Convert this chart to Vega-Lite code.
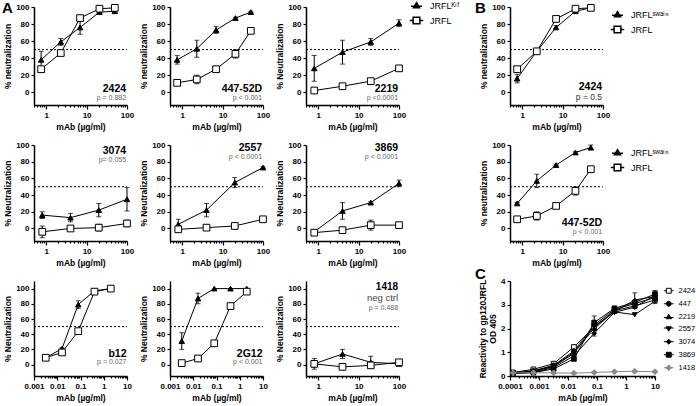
{
"$schema":"https://vega.github.io/schema/vega-lite/v6.json",
"padding":{"left":2,"top":1,"right":2,"bottom":2},
"bounds":"flush",
"columns":5,
"spacing":{"row":40,"column":43},
"resolve":{"scale":{"shape":"independent","fill":"independent","size":"independent","stroke":"independent"}},
"config":{
 "view":{"stroke":null},
 "font":"Liberation Sans",
 "axis":{"domainColor":"black","domainWidth":1.5,"tickColor":"black","tickWidth":1.2,"tickSize":3,"labelFont":"Liberation Sans","labelFontWeight":"bold","labelFontSize":8,"labelColor":"black","titleFont":"Liberation Sans","titleFontWeight":"bold","titleFontSize":8.5,"titleColor":"black","grid":false,"labelPadding":2,"titlePadding":3,"labelOverlap":false,"labelFlush":false},
 "title":{"font":"Liberation Sans","fontWeight":"bold","fontSize":15,"color":"black","anchor":"start","frame":"group","baseline":"bottom","offset":0}
},
"datasets":{
 "A1":[{"s":"JRFLᴷⁱᶠ","x":0.75,"y":38,"e":10},{"s":"JRFLᴷⁱᶠ","x":2.3,"y":59,"e":4},{"s":"JRFLᴷⁱᶠ","x":6.9,"y":76,"e":8},{"s":"JRFLᴷⁱᶠ","x":20.8,"y":94,"e":1},{"s":"JRFLᴷⁱᶠ","x":50,"y":95,"e":1},
       {"s":"JRFL","x":0.75,"y":27,"e":2},{"s":"JRFL","x":2.3,"y":46,"e":2},{"s":"JRFL","x":6.9,"y":87,"e":2},{"s":"JRFL","x":20.8,"y":98,"e":1},{"s":"JRFL","x":50,"y":99,"e":1}],
 "A2":[{"s":"JRFLᴷⁱᶠ","x":0.75,"y":38,"e":5},{"s":"JRFLᴷⁱᶠ","x":2.3,"y":51,"e":10},{"s":"JRFLᴷⁱᶠ","x":6.9,"y":73,"e":4},{"s":"JRFLᴷⁱᶠ","x":20.8,"y":87,"e":1},{"s":"JRFLᴷⁱᶠ","x":50,"y":94,"e":1},
       {"s":"JRFL","x":0.75,"y":11,"e":2},{"s":"JRFL","x":2.3,"y":15,"e":5},{"s":"JRFL","x":6.9,"y":27,"e":1},{"s":"JRFL","x":20.8,"y":45,"e":5},{"s":"JRFL","x":50,"y":72,"e":2}],
 "A3":[{"s":"JRFLᴷⁱᶠ","x":0.8,"y":28,"e":15},{"s":"JRFLᴷⁱᶠ","x":4,"y":47,"e":14},{"s":"JRFLᴷⁱᶠ","x":20,"y":59,"e":4},{"s":"JRFLᴷⁱᶠ","x":100,"y":81,"e":4},
       {"s":"JRFL","x":0.8,"y":2,"e":1},{"s":"JRFL","x":4,"y":7,"e":1},{"s":"JRFL","x":20,"y":13,"e":1},{"s":"JRFL","x":100,"y":28,"e":2}],
 "A4":[{"s":"JRFLᴷⁱᶠ","x":0.8,"y":16,"e":4},{"s":"JRFLᴷⁱᶠ","x":4,"y":13,"e":5},{"s":"JRFLᴷⁱᶠ","x":20,"y":22,"e":8},{"s":"JRFLᴷⁱᶠ","x":100,"y":35,"e":14},
       {"s":"JRFL","x":0.8,"y":-4,"e":7},{"s":"JRFL","x":4,"y":0,"e":1},{"s":"JRFL","x":20,"y":1,"e":4},{"s":"JRFL","x":100,"y":6,"e":4}],
 "A5":[{"s":"JRFLᴷⁱᶠ","x":0.8,"y":5,"e":6},{"s":"JRFLᴷⁱᶠ","x":4,"y":22,"e":8},{"s":"JRFLᴷⁱᶠ","x":20,"y":55,"e":6},{"s":"JRFLᴷⁱᶠ","x":100,"y":73,"e":1},
       {"s":"JRFL","x":0.8,"y":-1,"e":3},{"s":"JRFL","x":4,"y":1,"e":1},{"s":"JRFL","x":20,"y":3,"e":1},{"s":"JRFL","x":100,"y":11,"e":2}],
 "A6":[{"s":"JRFLᴷⁱᶠ","x":0.8,"y":-4,"e":2},{"s":"JRFLᴷⁱᶠ","x":4,"y":21,"e":10},{"s":"JRFLᴷⁱᶠ","x":20,"y":31,"e":1},{"s":"JRFLᴷⁱᶠ","x":100,"y":54,"e":4},
       {"s":"JRFL","x":0.8,"y":-5,"e":3},{"s":"JRFL","x":4,"y":-2,"e":3},{"s":"JRFL","x":20,"y":4,"e":6},{"s":"JRFL","x":100,"y":4,"e":2}],
 "A7":[{"s":"JRFLᴷⁱᶠ","x":0.0032,"y":9,"e":1},{"s":"JRFLᴷⁱᶠ","x":0.016,"y":21,"e":1},{"s":"JRFLᴷⁱᶠ","x":0.08,"y":79,"e":5},{"s":"JRFLᴷⁱᶠ","x":0.4,"y":97,"e":1},{"s":"JRFLᴷⁱᶠ","x":2,"y":100,"e":0},
       {"s":"JRFL","x":0.0032,"y":9,"e":2},{"s":"JRFL","x":0.016,"y":16,"e":2},{"s":"JRFL","x":0.08,"y":44,"e":3},{"s":"JRFL","x":0.4,"y":96,"e":2},{"s":"JRFL","x":2,"y":100,"e":1}],
 "A8":[{"s":"JRFLᴷⁱᶠ","x":0.0032,"y":31,"e":11},{"s":"JRFLᴷⁱᶠ","x":0.016,"y":87,"e":7},{"s":"JRFLᴷⁱᶠ","x":0.08,"y":100,"e":0},{"s":"JRFLᴷⁱᶠ","x":0.4,"y":100,"e":0},{"s":"JRFLᴷⁱᶠ","x":2,"y":100,"e":0},
       {"s":"JRFL","x":0.0032,"y":2,"e":1},{"s":"JRFL","x":0.016,"y":8,"e":1},{"s":"JRFL","x":0.08,"y":28,"e":1},{"s":"JRFL","x":0.4,"y":77,"e":1},{"s":"JRFL","x":2,"y":96,"e":2}],
 "A9":[{"s":"JRFLᴷⁱᶠ","x":0.8,"y":1,"e":7},{"s":"JRFLᴷⁱᶠ","x":4,"y":14,"e":6},{"s":"JRFLᴷⁱᶠ","x":20,"y":3,"e":8},{"s":"JRFLᴷⁱᶠ","x":100,"y":1,"e":2},
       {"s":"JRFL","x":0.8,"y":1,"e":4},{"s":"JRFL","x":4,"y":-3,"e":2},{"s":"JRFL","x":20,"y":-1,"e":3},{"s":"JRFL","x":100,"y":3,"e":2}],
 "B1":[{"s":"JRFLˢʷᵃⁱⁿ","x":0.75,"y":16,"e":5},{"s":"JRFLˢʷᵃⁱⁿ","x":2.3,"y":48,"e":2},{"s":"JRFLˢʷᵃⁱⁿ","x":6.9,"y":76,"e":2},{"s":"JRFLˢʷᵃⁱⁿ","x":20.8,"y":95,"e":1},{"s":"JRFLˢʷᵃⁱⁿ","x":50,"y":99,"e":1},
       {"s":"JRFL","x":0.75,"y":27,"e":3},{"s":"JRFL","x":2.3,"y":48,"e":2},{"s":"JRFL","x":6.9,"y":86,"e":2},{"s":"JRFL","x":20.8,"y":98,"e":1},{"s":"JRFL","x":50,"y":99,"e":1}],
 "B2":[{"s":"JRFLˢʷᵃⁱⁿ","x":0.75,"y":30,"e":1},{"s":"JRFLˢʷᵃⁱⁿ","x":2.3,"y":57,"e":8},{"s":"JRFLˢʷᵃⁱⁿ","x":6.9,"y":76,"e":1},{"s":"JRFLˢʷᵃⁱⁿ","x":20.8,"y":91,"e":1},{"s":"JRFLˢʷᵃⁱⁿ","x":50,"y":97,"e":3},
       {"s":"JRFL","x":0.75,"y":11,"e":2},{"s":"JRFL","x":2.3,"y":15,"e":5},{"s":"JRFL","x":6.9,"y":27,"e":1},{"s":"JRFL","x":20.8,"y":45,"e":5},{"s":"JRFL","x":50,"y":71,"e":2}],
 "C":[
  {"s":"2424","x":0.000128,"y":0.15},{"s":"2424","x":0.00064,"y":0.28},{"s":"2424","x":0.0032,"y":0.52},{"s":"2424","x":0.016,"y":1.22},{"s":"2424","x":0.08,"y":2.05},{"s":"2424","x":0.4,"y":2.75},{"s":"2424","x":2,"y":2.95},{"s":"2424","x":10,"y":3.2,"e":0.15},
  {"s":"447","x":0.000128,"y":0.13},{"s":"447","x":0.00064,"y":0.22},{"s":"447","x":0.0032,"y":0.45},{"s":"447","x":0.016,"y":1.05},{"s":"447","x":0.08,"y":2.15},{"s":"447","x":0.4,"y":2.8},{"s":"447","x":2,"y":3.05},{"s":"447","x":10,"y":3.3},
  {"s":"2219","x":0.000128,"y":0.12},{"s":"2219","x":0.00064,"y":0.2},{"s":"2219","x":0.0032,"y":0.42},{"s":"2219","x":0.016,"y":1.0},{"s":"2219","x":0.08,"y":2.0},{"s":"2219","x":0.4,"y":2.72},{"s":"2219","x":2,"y":3.2,"e":0.3},{"s":"2219","x":10,"y":3.35},
  {"s":"2557","x":0.000128,"y":0.12},{"s":"2557","x":0.00064,"y":0.18},{"s":"2557","x":0.0032,"y":0.4},{"s":"2557","x":0.016,"y":0.95},{"s":"2557","x":0.08,"y":2.1},{"s":"2557","x":0.4,"y":2.7},{"s":"2557","x":2,"y":2.58},{"s":"2557","x":10,"y":3.15},
  {"s":"3074","x":0.000128,"y":0.11},{"s":"3074","x":0.00064,"y":0.16},{"s":"3074","x":0.0032,"y":0.35},{"s":"3074","x":0.016,"y":0.85},{"s":"3074","x":0.08,"y":1.8,"e":0.12},{"s":"3074","x":0.4,"y":2.68},{"s":"3074","x":2,"y":2.9},{"s":"3074","x":10,"y":3.4,"e":0.2},
  {"s":"3869","x":0.000128,"y":0.1},{"s":"3869","x":0.00064,"y":0.14},{"s":"3869","x":0.0032,"y":0.3},{"s":"3869","x":0.016,"y":0.72},{"s":"3869","x":0.08,"y":2.25,"e":0.28},{"s":"3869","x":0.4,"y":2.85},{"s":"3869","x":2,"y":3.1},{"s":"3869","x":10,"y":3.45},
  {"s":"1418","x":0.000128,"y":0.13},{"s":"1418","x":0.00064,"y":0.14},{"s":"1418","x":0.0032,"y":0.13},{"s":"1418","x":0.016,"y":0.12},{"s":"1418","x":0.08,"y":0.15},{"s":"1418","x":0.4,"y":0.18},{"s":"1418","x":2,"y":0.2},{"s":"1418","x":10,"y":0.18}]
},
"concat":[
 {"width":93,"height":98,"title":{"text":"A","dx":-32,"dy":18},"data":{"name":"A1"},
  "encoding":{"x":{"field":"x","type":"quantitative","scale":{"type":"log","domain":[0.5,100],"nice":false},"axis":{"values":[0.5,0.6,0.7,0.8,0.9,1,2,3,4,5,6,7,8,9,10,20,30,40,50,60,70,80,90,100],"format":"~g","labelExpr":"abs(log(datum.value)/LN10-round(log(datum.value)/LN10))<0.01 ? datum.label : ''","tickSize":{"condition":{"test":"abs(log(datum.value)/LN10-round(log(datum.value)/LN10))<0.01","value":4},"value":2},"title":"mAb (µg/ml)"}},
   "y":{"field":"y","type":"quantitative","scale":{"domain":[-15,100],"nice":false,"zero":false},"axis":{"values":[0,20,40,60,80,100],"title":"% neutralization"}}},
  "layer":[
   {"data":{"values":[{"x":0.5,"x2":100,"y":50}]},"mark":{"type":"rule","strokeDash":[2,2],"color":"black","strokeWidth":1},"encoding":{"x2":{"field":"x2"}}},
   {"transform":[{"filter":"datum.e>0"}],"mark":{"type":"errorbar","ticks":true,"size":5,"thickness":1,"color":"black"},"encoding":{"yError":{"field":"e"}}},
   {"mark":{"type":"line","color":"black","strokeWidth":1},"encoding":{"detail":{"field":"s"}}},
   {"mark":{"type":"point","filled":true,"stroke":"black","strokeWidth":1,"opacity":1},"encoding":{
     "shape":{"field":"s","type":"nominal","scale":{"domain":["JRFLᴷⁱᶠ","JRFL"],"range":["triangle-up","square"]},"legend":null},
     "fill":{"field":"s","type":"nominal","scale":{"domain":["JRFLᴷⁱᶠ","JRFL"],"range":["black","white"]},"legend":null},
     "size":{"field":"s","type":"ordinal","scale":{"domain":["JRFLᴷⁱᶠ","JRFL"],"range":[30,45]},"legend":null}}},
   {"data":{"values":[{"x":95,"y":4,"t":"2424"}]},"mark":{"type":"text","align":"right","baseline":"middle","fontWeight":"bold","fontSize":10.5},"encoding":{"text":{"field":"t"}}},
   {"data":{"values":[{"x":95,"y":-7,"t":"p = 0.882"}]},"mark":{"type":"text","align":"right","baseline":"middle","fontSize":7,"color":"#666"},"encoding":{"text":{"field":"t"}}}
  ]},
 {"width":93,"height":98,"data":{"name":"A2"},
  "encoding":{"x":{"field":"x","type":"quantitative","scale":{"type":"log","domain":[0.5,100],"nice":false},"axis":{"values":[0.5,0.6,0.7,0.8,0.9,1,2,3,4,5,6,7,8,9,10,20,30,40,50,60,70,80,90,100],"format":"~g","labelExpr":"abs(log(datum.value)/LN10-round(log(datum.value)/LN10))<0.01 ? datum.label : ''","tickSize":{"condition":{"test":"abs(log(datum.value)/LN10-round(log(datum.value)/LN10))<0.01","value":4},"value":2},"title":"mAb (µg/ml)"}},
   "y":{"field":"y","type":"quantitative","scale":{"domain":[-15,100],"nice":false,"zero":false},"axis":{"values":[0,20,40,60,80,100],"title":"% neutralization"}}},
  "layer":[
   {"data":{"values":[{"x":0.5,"x2":100,"y":50}]},"mark":{"type":"rule","strokeDash":[2,2],"color":"black","strokeWidth":1},"encoding":{"x2":{"field":"x2"}}},
   {"transform":[{"filter":"datum.e>0"}],"mark":{"type":"errorbar","ticks":true,"size":5,"thickness":1,"color":"black"},"encoding":{"yError":{"field":"e"}}},
   {"mark":{"type":"line","color":"black","strokeWidth":1},"encoding":{"detail":{"field":"s"}}},
   {"mark":{"type":"point","filled":true,"stroke":"black","strokeWidth":1,"opacity":1},"encoding":{
     "shape":{"field":"s","type":"nominal","scale":{"domain":["JRFLᴷⁱᶠ","JRFL"],"range":["triangle-up","square"]},"legend":null},
     "fill":{"field":"s","type":"nominal","scale":{"domain":["JRFLᴷⁱᶠ","JRFL"],"range":["black","white"]},"legend":null},
     "size":{"field":"s","type":"ordinal","scale":{"domain":["JRFLᴷⁱᶠ","JRFL"],"range":[30,45]},"legend":null}}},
   {"data":{"values":[{"x":95,"y":4,"t":"447-52D"}]},"mark":{"type":"text","align":"right","baseline":"middle","fontWeight":"bold","fontSize":10.5},"encoding":{"text":{"field":"t"}}},
   {"data":{"values":[{"x":95,"y":-7,"t":"p < 0.001"}]},"mark":{"type":"text","align":"right","baseline":"middle","fontSize":7,"color":"#666"},"encoding":{"text":{"field":"t"}}}
  ]},
 {"width":93,"height":98,"data":{"name":"A3"},
  "resolve":{"scale":{"shape":"independent","fill":"independent","size":"independent"}},
  "encoding":{"x":{"field":"x","type":"quantitative","scale":{"type":"log","domain":[0.5,100],"nice":false},"axis":{"values":[0.5,0.6,0.7,0.8,0.9,1,2,3,4,5,6,7,8,9,10,20,30,40,50,60,70,80,90,100],"format":"~g","labelExpr":"abs(log(datum.value)/LN10-round(log(datum.value)/LN10))<0.01 ? datum.label : ''","tickSize":{"condition":{"test":"abs(log(datum.value)/LN10-round(log(datum.value)/LN10))<0.01","value":4},"value":2},"title":"mAb (µg/ml)"}},
   "y":{"field":"y","type":"quantitative","scale":{"domain":[-15,100],"nice":false,"zero":false},"axis":{"values":[0,20,40,60,80,100],"title":"% Neutralization"}}},
  "layer":[
   {"data":{"values":[{"x":0.5,"x2":100,"y":50}]},"mark":{"type":"rule","strokeDash":[2,2],"color":"black","strokeWidth":1},"encoding":{"x2":{"field":"x2"}}},
   {"transform":[{"filter":"datum.e>0"}],"mark":{"type":"errorbar","ticks":true,"size":5,"thickness":1,"color":"black"},"encoding":{"yError":{"field":"e"}}},
   {"mark":{"type":"line","color":"black","strokeWidth":1},"encoding":{"detail":{"field":"s"}}},
   {"mark":{"type":"point","filled":true,"stroke":"black","strokeWidth":1,"opacity":1},"encoding":{
     "shape":{"field":"s","type":"nominal","scale":{"domain":["JRFLᴷⁱᶠ","JRFL"],"range":["triangle-up","square"]},"legend":null},
     "fill":{"field":"s","type":"nominal","scale":{"domain":["JRFLᴷⁱᶠ","JRFL"],"range":["black","white"]},"legend":null},
     "size":{"field":"s","type":"ordinal","scale":{"domain":["JRFLᴷⁱᶠ","JRFL"],"range":[30,45]},"legend":null}}},
   {"transform":[{"filter":"false"}],"mark":{"type":"point","filled":true,"stroke":"black","strokeWidth":1,"opacity":1},"encoding":{
     "shape":{"field":"s","type":"nominal","scale":{"domain":["JRFLᴷⁱᶠ","JRFL"],"range":["M-2,0.3H2M0,-1L1.1,0.8H-1.1Z","M-2,0H-1M1,0H2M-1,-1H1V1H-1Z"]},"legend":{"orient":"none","legendX":106,"legendY":-6,"title":null,"labelFontSize":9,"labelFont":"Liberation Sans","labelColor":"black","labelOffset":9,"rowPadding":3,"encode":{"symbols":{"update":{"stroke":{"value":"black"},"strokeWidth":{"value":1}}}}}},
     "fill":{"field":"s","type":"nominal","scale":{"domain":["JRFLᴷⁱᶠ","JRFL"],"range":["black","white"]},"legend":{"orient":"none","legendX":106,"legendY":-6,"title":null,"labelFontSize":9,"labelFont":"Liberation Sans","labelColor":"black","labelOffset":9,"rowPadding":3,"encode":{"symbols":{"update":{"stroke":{"value":"black"},"strokeWidth":{"value":1}}}}}},
     "size":{"field":"s","type":"ordinal","scale":{"domain":["JRFLᴷⁱᶠ","JRFL"],"range":[30,45]},"legend":{"orient":"none","legendX":106,"legendY":-6,"title":null,"labelFontSize":9,"labelFont":"Liberation Sans","labelColor":"black","labelOffset":9,"rowPadding":3,"encode":{"symbols":{"update":{"stroke":{"value":"black"},"strokeWidth":{"value":1}}}}}}}},
   {"data":{"values":[{"x":95,"y":4,"t":"2219"}]},"mark":{"type":"text","align":"right","baseline":"middle","fontWeight":"bold","fontSize":10.5},"encoding":{"text":{"field":"t"}}},
   {"data":{"values":[{"x":95,"y":-7,"t":"p <0.0001"}]},"mark":{"type":"text","align":"right","baseline":"middle","fontSize":7,"color":"#666"},"encoding":{"text":{"field":"t"}}}
  ]},
 {"width":25,"height":98,"data":{"values":[{}]},"mark":{"type":"point","opacity":0},"encoding":{}},
 {"width":93,"height":98,"title":{"text":"B","dx":-35,"dy":18},"data":{"name":"B1"},
  "resolve":{"scale":{"shape":"independent","fill":"independent","size":"independent"}},
  "encoding":{"x":{"field":"x","type":"quantitative","scale":{"type":"log","domain":[0.5,100],"nice":false},"axis":{"values":[0.5,0.6,0.7,0.8,0.9,1,2,3,4,5,6,7,8,9,10,20,30,40,50,60,70,80,90,100],"format":"~g","labelExpr":"abs(log(datum.value)/LN10-round(log(datum.value)/LN10))<0.01 ? datum.label : ''","tickSize":{"condition":{"test":"abs(log(datum.value)/LN10-round(log(datum.value)/LN10))<0.01","value":4},"value":2},"title":"mAb (µg/ml)"}},
   "y":{"field":"y","type":"quantitative","scale":{"domain":[-15,100],"nice":false,"zero":false},"axis":{"values":[0,20,40,60,80,100],"title":"% neutralization"}}},
  "layer":[
   {"data":{"values":[{"x":0.5,"x2":100,"y":50}]},"mark":{"type":"rule","strokeDash":[2,2],"color":"black","strokeWidth":1},"encoding":{"x2":{"field":"x2"}}},
   {"transform":[{"filter":"datum.e>0"}],"mark":{"type":"errorbar","ticks":true,"size":5,"thickness":1,"color":"black"},"encoding":{"yError":{"field":"e"}}},
   {"mark":{"type":"line","color":"black","strokeWidth":1},"encoding":{"detail":{"field":"s"}}},
   {"mark":{"type":"point","filled":true,"stroke":"black","strokeWidth":1,"opacity":1},"encoding":{
     "shape":{"field":"s","type":"nominal","scale":{"domain":["JRFLˢʷᵃⁱⁿ","JRFL"],"range":["triangle-up","square"]},"legend":null},
     "fill":{"field":"s","type":"nominal","scale":{"domain":["JRFLˢʷᵃⁱⁿ","JRFL"],"range":["black","white"]},"legend":null},
     "size":{"field":"s","type":"ordinal","scale":{"domain":["JRFLˢʷᵃⁱⁿ","JRFL"],"range":[30,45]},"legend":null}}},
   {"transform":[{"filter":"false"}],"mark":{"type":"point","filled":true,"stroke":"black","strokeWidth":1,"opacity":1},"encoding":{
     "shape":{"field":"s","type":"nominal","scale":{"domain":["JRFLˢʷᵃⁱⁿ","JRFL"],"range":["M-2,0.3H2M0,-1L1.1,0.8H-1.1Z","M-2,0H-1M1,0H2M-1,-1H1V1H-1Z"]},"legend":{"orient":"none","legendX":103,"legendY":3,"title":null,"labelFontSize":9,"labelFont":"Liberation Sans","labelColor":"black","labelOffset":9,"rowPadding":3,"encode":{"symbols":{"update":{"stroke":{"value":"black"},"strokeWidth":{"value":1}}}}}},
     "fill":{"field":"s","type":"nominal","scale":{"domain":["JRFLˢʷᵃⁱⁿ","JRFL"],"range":["black","white"]},"legend":{"orient":"none","legendX":103,"legendY":3,"title":null,"labelFontSize":9,"labelFont":"Liberation Sans","labelColor":"black","labelOffset":9,"rowPadding":3,"encode":{"symbols":{"update":{"stroke":{"value":"black"},"strokeWidth":{"value":1}}}}}},
     "size":{"field":"s","type":"ordinal","scale":{"domain":["JRFLˢʷᵃⁱⁿ","JRFL"],"range":[30,45]},"legend":{"orient":"none","legendX":103,"legendY":3,"title":null,"labelFontSize":9,"labelFont":"Liberation Sans","labelColor":"black","labelOffset":9,"rowPadding":3,"encode":{"symbols":{"update":{"stroke":{"value":"black"},"strokeWidth":{"value":1}}}}}}}},
   {"data":{"values":[{"x":95,"y":6,"t":"2424"}]},"mark":{"type":"text","align":"right","baseline":"middle","fontWeight":"bold","fontSize":10.5},"encoding":{"text":{"field":"t"}}},
   {"data":{"values":[{"x":95,"y":-6,"t":"p = 0.5"}]},"mark":{"type":"text","align":"right","baseline":"middle","fontSize":8.5,"color":"#333"},"encoding":{"text":{"field":"t"}}}
  ]},
 {"width":93,"height":96,"data":{"name":"A4"},
  "encoding":{"x":{"field":"x","type":"quantitative","scale":{"type":"log","domain":[0.5,100],"nice":false},"axis":{"values":[0.5,0.6,0.7,0.8,0.9,1,2,3,4,5,6,7,8,9,10,20,30,40,50,60,70,80,90,100],"format":"~g","labelExpr":"abs(log(datum.value)/LN10-round(log(datum.value)/LN10))<0.01 ? datum.label : ''","tickSize":{"condition":{"test":"abs(log(datum.value)/LN10-round(log(datum.value)/LN10))<0.01","value":4},"value":2},"title":"mAb (µg/ml)"}},
   "y":{"field":"y","type":"quantitative","scale":{"domain":[-15,100],"nice":false,"zero":false},"axis":{"values":[0,20,40,60,80,100],"title":"% Neutralization"}}},
  "layer":[
   {"data":{"values":[{"x":0.5,"x2":100,"y":50}]},"mark":{"type":"rule","strokeDash":[2,2],"color":"black","strokeWidth":1},"encoding":{"x2":{"field":"x2"}}},
   {"transform":[{"filter":"datum.e>0"}],"mark":{"type":"errorbar","ticks":true,"size":5,"thickness":1,"color":"black"},"encoding":{"yError":{"field":"e"}}},
   {"mark":{"type":"line","color":"black","strokeWidth":1},"encoding":{"detail":{"field":"s"}}},
   {"mark":{"type":"point","filled":true,"stroke":"black","strokeWidth":1,"opacity":1},"encoding":{
     "shape":{"field":"s","type":"nominal","scale":{"domain":["JRFLᴷⁱᶠ","JRFL"],"range":["triangle-up","square"]},"legend":null},
     "fill":{"field":"s","type":"nominal","scale":{"domain":["JRFLᴷⁱᶠ","JRFL"],"range":["black","white"]},"legend":null},
     "size":{"field":"s","type":"ordinal","scale":{"domain":["JRFLᴷⁱᶠ","JRFL"],"range":[30,45]},"legend":null}}},
   {"data":{"values":[{"x":95,"y":93,"t":"3074"}]},"mark":{"type":"text","align":"right","baseline":"middle","fontWeight":"bold","fontSize":10.5},"encoding":{"text":{"field":"t"}}},
   {"data":{"values":[{"x":95,"y":82,"t":"p= 0.055"}]},"mark":{"type":"text","align":"right","baseline":"middle","fontSize":7,"color":"#666"},"encoding":{"text":{"field":"t"}}}
  ]},
 {"width":93,"height":96,"data":{"name":"A5"},
  "encoding":{"x":{"field":"x","type":"quantitative","scale":{"type":"log","domain":[0.5,100],"nice":false},"axis":{"values":[0.5,0.6,0.7,0.8,0.9,1,2,3,4,5,6,7,8,9,10,20,30,40,50,60,70,80,90,100],"format":"~g","labelExpr":"abs(log(datum.value)/LN10-round(log(datum.value)/LN10))<0.01 ? datum.label : ''","tickSize":{"condition":{"test":"abs(log(datum.value)/LN10-round(log(datum.value)/LN10))<0.01","value":4},"value":2},"title":"mAb (µg/ml)"}},
   "y":{"field":"y","type":"quantitative","scale":{"domain":[-15,100],"nice":false,"zero":false},"axis":{"values":[0,20,40,60,80,100],"title":"% Neutralization"}}},
  "layer":[
   {"data":{"values":[{"x":0.5,"x2":100,"y":50}]},"mark":{"type":"rule","strokeDash":[2,2],"color":"black","strokeWidth":1},"encoding":{"x2":{"field":"x2"}}},
   {"transform":[{"filter":"datum.e>0"}],"mark":{"type":"errorbar","ticks":true,"size":5,"thickness":1,"color":"black"},"encoding":{"yError":{"field":"e"}}},
   {"mark":{"type":"line","color":"black","strokeWidth":1},"encoding":{"detail":{"field":"s"}}},
   {"mark":{"type":"point","filled":true,"stroke":"black","strokeWidth":1,"opacity":1},"encoding":{
     "shape":{"field":"s","type":"nominal","scale":{"domain":["JRFLᴷⁱᶠ","JRFL"],"range":["triangle-up","square"]},"legend":null},
     "fill":{"field":"s","type":"nominal","scale":{"domain":["JRFLᴷⁱᶠ","JRFL"],"range":["black","white"]},"legend":null},
     "size":{"field":"s","type":"ordinal","scale":{"domain":["JRFLᴷⁱᶠ","JRFL"],"range":[30,45]},"legend":null}}},
   {"data":{"values":[{"x":95,"y":96,"t":"2557"}]},"mark":{"type":"text","align":"right","baseline":"middle","fontWeight":"bold","fontSize":10.5},"encoding":{"text":{"field":"t"}}},
   {"data":{"values":[{"x":95,"y":86,"t":"p < 0.0001"}]},"mark":{"type":"text","align":"right","baseline":"middle","fontSize":7,"color":"#666"},"encoding":{"text":{"field":"t"}}}
  ]},
 {"width":93,"height":96,"data":{"name":"A6"},
  "encoding":{"x":{"field":"x","type":"quantitative","scale":{"type":"log","domain":[0.5,100],"nice":false},"axis":{"values":[0.5,0.6,0.7,0.8,0.9,1,2,3,4,5,6,7,8,9,10,20,30,40,50,60,70,80,90,100],"format":"~g","labelExpr":"abs(log(datum.value)/LN10-round(log(datum.value)/LN10))<0.01 ? datum.label : ''","tickSize":{"condition":{"test":"abs(log(datum.value)/LN10-round(log(datum.value)/LN10))<0.01","value":4},"value":2},"title":"mAb (µg/ml)"}},
   "y":{"field":"y","type":"quantitative","scale":{"domain":[-15,100],"nice":false,"zero":false},"axis":{"values":[0,20,40,60,80,100],"title":"% Neutralization"}}},
  "layer":[
   {"data":{"values":[{"x":0.5,"x2":100,"y":50}]},"mark":{"type":"rule","strokeDash":[2,2],"color":"black","strokeWidth":1},"encoding":{"x2":{"field":"x2"}}},
   {"transform":[{"filter":"datum.e>0"}],"mark":{"type":"errorbar","ticks":true,"size":5,"thickness":1,"color":"black"},"encoding":{"yError":{"field":"e"}}},
   {"mark":{"type":"line","color":"black","strokeWidth":1},"encoding":{"detail":{"field":"s"}}},
   {"mark":{"type":"point","filled":true,"stroke":"black","strokeWidth":1,"opacity":1},"encoding":{
     "shape":{"field":"s","type":"nominal","scale":{"domain":["JRFLᴷⁱᶠ","JRFL"],"range":["triangle-up","square"]},"legend":null},
     "fill":{"field":"s","type":"nominal","scale":{"domain":["JRFLᴷⁱᶠ","JRFL"],"range":["black","white"]},"legend":null},
     "size":{"field":"s","type":"ordinal","scale":{"domain":["JRFLᴷⁱᶠ","JRFL"],"range":[30,45]},"legend":null}}},
   {"data":{"values":[{"x":95,"y":96,"t":"3869"}]},"mark":{"type":"text","align":"right","baseline":"middle","fontWeight":"bold","fontSize":10.5},"encoding":{"text":{"field":"t"}}},
   {"data":{"values":[{"x":95,"y":86,"t":"p < 0.0001"}]},"mark":{"type":"text","align":"right","baseline":"middle","fontSize":7,"color":"#666"},"encoding":{"text":{"field":"t"}}}
  ]},
 {"width":25,"height":96,"data":{"values":[{}]},"mark":{"type":"point","opacity":0},"encoding":{}},
 {"width":93,"height":96,"data":{"name":"B2"},
  "resolve":{"scale":{"shape":"independent","fill":"independent","size":"independent"}},
  "encoding":{"x":{"field":"x","type":"quantitative","scale":{"type":"log","domain":[0.5,100],"nice":false},"axis":{"values":[0.5,0.6,0.7,0.8,0.9,1,2,3,4,5,6,7,8,9,10,20,30,40,50,60,70,80,90,100],"format":"~g","labelExpr":"abs(log(datum.value)/LN10-round(log(datum.value)/LN10))<0.01 ? datum.label : ''","tickSize":{"condition":{"test":"abs(log(datum.value)/LN10-round(log(datum.value)/LN10))<0.01","value":4},"value":2},"title":"mAb (µg/ml)"}},
   "y":{"field":"y","type":"quantitative","scale":{"domain":[-15,100],"nice":false,"zero":false},"axis":{"values":[0,20,40,60,80,100],"title":"% neutralization"}}},
  "layer":[
   {"data":{"values":[{"x":0.5,"x2":100,"y":50}]},"mark":{"type":"rule","strokeDash":[2,2],"color":"black","strokeWidth":1},"encoding":{"x2":{"field":"x2"}}},
   {"transform":[{"filter":"datum.e>0"}],"mark":{"type":"errorbar","ticks":true,"size":5,"thickness":1,"color":"black"},"encoding":{"yError":{"field":"e"}}},
   {"mark":{"type":"line","color":"black","strokeWidth":1},"encoding":{"detail":{"field":"s"}}},
   {"mark":{"type":"point","filled":true,"stroke":"black","strokeWidth":1,"opacity":1},"encoding":{
     "shape":{"field":"s","type":"nominal","scale":{"domain":["JRFLˢʷᵃⁱⁿ","JRFL"],"range":["triangle-up","square"]},"legend":null},
     "fill":{"field":"s","type":"nominal","scale":{"domain":["JRFLˢʷᵃⁱⁿ","JRFL"],"range":["black","white"]},"legend":null},
     "size":{"field":"s","type":"ordinal","scale":{"domain":["JRFLˢʷᵃⁱⁿ","JRFL"],"range":[30,45]},"legend":null}}},
   {"transform":[{"filter":"false"}],"mark":{"type":"point","filled":true,"stroke":"black","strokeWidth":1,"opacity":1},"encoding":{
     "shape":{"field":"s","type":"nominal","scale":{"domain":["JRFLˢʷᵃⁱⁿ","JRFL"],"range":["M-2,0.3H2M0,-1L1.1,0.8H-1.1Z","M-2,0H-1M1,0H2M-1,-1H1V1H-1Z"]},"legend":{"orient":"none","legendX":103,"legendY":3,"title":null,"labelFontSize":9,"labelFont":"Liberation Sans","labelColor":"black","labelOffset":9,"rowPadding":3,"encode":{"symbols":{"update":{"stroke":{"value":"black"},"strokeWidth":{"value":1}}}}}},
     "fill":{"field":"s","type":"nominal","scale":{"domain":["JRFLˢʷᵃⁱⁿ","JRFL"],"range":["black","white"]},"legend":{"orient":"none","legendX":103,"legendY":3,"title":null,"labelFontSize":9,"labelFont":"Liberation Sans","labelColor":"black","labelOffset":9,"rowPadding":3,"encode":{"symbols":{"update":{"stroke":{"value":"black"},"strokeWidth":{"value":1}}}}}},
     "size":{"field":"s","type":"ordinal","scale":{"domain":["JRFLˢʷᵃⁱⁿ","JRFL"],"range":[30,45]},"legend":{"orient":"none","legendX":103,"legendY":3,"title":null,"labelFontSize":9,"labelFont":"Liberation Sans","labelColor":"black","labelOffset":9,"rowPadding":3,"encode":{"symbols":{"update":{"stroke":{"value":"black"},"strokeWidth":{"value":1}}}}}}}},
   {"data":{"values":[{"x":95,"y":7,"t":"447-52D"}]},"mark":{"type":"text","align":"right","baseline":"middle","fontWeight":"bold","fontSize":10.5},"encoding":{"text":{"field":"t"}}},
   {"data":{"values":[{"x":95,"y":-4,"t":"p < 0.001"}]},"mark":{"type":"text","align":"right","baseline":"middle","fontSize":7,"color":"#666"},"encoding":{"text":{"field":"t"}}}
  ]},
 {"width":93,"height":95,"data":{"name":"A7"},
  "encoding":{"x":{"field":"x","type":"quantitative","scale":{"type":"log","domain":[0.001,10],"nice":false},"axis":{"values":[0.001,0.002,0.003,0.004,0.005,0.006,0.007,0.008,0.009,0.01,0.02,0.03,0.04,0.05,0.06,0.07,0.08,0.09,0.1,0.2,0.3,0.4,0.5,0.6,0.7,0.8,0.9,1,2,3,4,5,6,7,8,9,10],"format":"~g","labelExpr":"abs(log(datum.value)/LN10-round(log(datum.value)/LN10))<0.01 ? datum.label : ''","tickSize":{"condition":{"test":"abs(log(datum.value)/LN10-round(log(datum.value)/LN10))<0.01","value":4},"value":2},"title":"mAb (µg/ml)"}},
   "y":{"field":"y","type":"quantitative","scale":{"domain":[-15,110],"nice":false,"zero":false},"axis":{"values":[0,20,40,60,80,100],"title":"% Neutralization"}}},
  "layer":[
   {"data":{"values":[{"x":0.001,"x2":10,"y":50}]},"mark":{"type":"rule","strokeDash":[2,2],"color":"black","strokeWidth":1},"encoding":{"x2":{"field":"x2"}}},
   {"transform":[{"filter":"datum.e>0"}],"mark":{"type":"errorbar","ticks":true,"size":5,"thickness":1,"color":"black"},"encoding":{"yError":{"field":"e"}}},
   {"mark":{"type":"line","color":"black","strokeWidth":1},"encoding":{"detail":{"field":"s"}}},
   {"mark":{"type":"point","filled":true,"stroke":"black","strokeWidth":1,"opacity":1},"encoding":{
     "shape":{"field":"s","type":"nominal","scale":{"domain":["JRFLᴷⁱᶠ","JRFL"],"range":["triangle-up","square"]},"legend":null},
     "fill":{"field":"s","type":"nominal","scale":{"domain":["JRFLᴷⁱᶠ","JRFL"],"range":["black","white"]},"legend":null},
     "size":{"field":"s","type":"ordinal","scale":{"domain":["JRFLᴷⁱᶠ","JRFL"],"range":[30,45]},"legend":null}}},
   {"data":{"values":[{"x":9.5,"y":14,"t":"b12"}]},"mark":{"type":"text","align":"right","baseline":"middle","fontWeight":"bold","fontSize":10.5},"encoding":{"text":{"field":"t"}}},
   {"data":{"values":[{"x":9.5,"y":3,"t":"p = 0.027"}]},"mark":{"type":"text","align":"right","baseline":"middle","fontSize":7,"color":"#666"},"encoding":{"text":{"field":"t"}}}
  ]},
 {"width":93,"height":95,"data":{"name":"A8"},
  "encoding":{"x":{"field":"x","type":"quantitative","scale":{"type":"log","domain":[0.001,10],"nice":false},"axis":{"values":[0.001,0.002,0.003,0.004,0.005,0.006,0.007,0.008,0.009,0.01,0.02,0.03,0.04,0.05,0.06,0.07,0.08,0.09,0.1,0.2,0.3,0.4,0.5,0.6,0.7,0.8,0.9,1,2,3,4,5,6,7,8,9,10],"format":"~g","labelExpr":"abs(log(datum.value)/LN10-round(log(datum.value)/LN10))<0.01 ? datum.label : ''","tickSize":{"condition":{"test":"abs(log(datum.value)/LN10-round(log(datum.value)/LN10))<0.01","value":4},"value":2},"title":"mAb (µg/ml)"}},
   "y":{"field":"y","type":"quantitative","scale":{"domain":[-15,110],"nice":false,"zero":false},"axis":{"values":[0,20,40,60,80,100],"title":"% Neutralization"}}},
  "layer":[
   {"data":{"values":[{"x":0.001,"x2":10,"y":50}]},"mark":{"type":"rule","strokeDash":[2,2],"color":"black","strokeWidth":1},"encoding":{"x2":{"field":"x2"}}},
   {"transform":[{"filter":"datum.e>0"}],"mark":{"type":"errorbar","ticks":true,"size":5,"thickness":1,"color":"black"},"encoding":{"yError":{"field":"e"}}},
   {"mark":{"type":"line","color":"black","strokeWidth":1},"encoding":{"detail":{"field":"s"}}},
   {"mark":{"type":"point","filled":true,"stroke":"black","strokeWidth":1,"opacity":1},"encoding":{
     "shape":{"field":"s","type":"nominal","scale":{"domain":["JRFLᴷⁱᶠ","JRFL"],"range":["triangle-up","square"]},"legend":null},
     "fill":{"field":"s","type":"nominal","scale":{"domain":["JRFLᴷⁱᶠ","JRFL"],"range":["black","white"]},"legend":null},
     "size":{"field":"s","type":"ordinal","scale":{"domain":["JRFLᴷⁱᶠ","JRFL"],"range":[30,45]},"legend":null}}},
   {"data":{"values":[{"x":9.5,"y":14,"t":"2G12"}]},"mark":{"type":"text","align":"right","baseline":"middle","fontWeight":"bold","fontSize":10.5},"encoding":{"text":{"field":"t"}}},
   {"data":{"values":[{"x":9.5,"y":3,"t":"p < 0.001"}]},"mark":{"type":"text","align":"right","baseline":"middle","fontSize":7,"color":"#666"},"encoding":{"text":{"field":"t"}}}
  ]},
 {"width":93,"height":95,"data":{"name":"A9"},
  "encoding":{"x":{"field":"x","type":"quantitative","scale":{"type":"log","domain":[0.5,100],"nice":false},"axis":{"values":[0.5,0.6,0.7,0.8,0.9,1,2,3,4,5,6,7,8,9,10,20,30,40,50,60,70,80,90,100],"format":"~g","labelExpr":"abs(log(datum.value)/LN10-round(log(datum.value)/LN10))<0.01 ? datum.label : ''","tickSize":{"condition":{"test":"abs(log(datum.value)/LN10-round(log(datum.value)/LN10))<0.01","value":4},"value":2},"title":"mAb (µg/ml)"}},
   "y":{"field":"y","type":"quantitative","scale":{"domain":[-15,110],"nice":false,"zero":false},"axis":{"values":[0,20,40,60,80,100],"title":"% Neutralization"}}},
  "layer":[
   {"data":{"values":[{"x":0.5,"x2":100,"y":50}]},"mark":{"type":"rule","strokeDash":[2,2],"color":"black","strokeWidth":1},"encoding":{"x2":{"field":"x2"}}},
   {"transform":[{"filter":"datum.e>0"}],"mark":{"type":"errorbar","ticks":true,"size":5,"thickness":1,"color":"black"},"encoding":{"yError":{"field":"e"}}},
   {"mark":{"type":"line","color":"black","strokeWidth":1},"encoding":{"detail":{"field":"s"}}},
   {"mark":{"type":"point","filled":true,"stroke":"black","strokeWidth":1,"opacity":1},"encoding":{
     "shape":{"field":"s","type":"nominal","scale":{"domain":["JRFLᴷⁱᶠ","JRFL"],"range":["triangle-up","square"]},"legend":null},
     "fill":{"field":"s","type":"nominal","scale":{"domain":["JRFLᴷⁱᶠ","JRFL"],"range":["black","white"]},"legend":null},
     "size":{"field":"s","type":"ordinal","scale":{"domain":["JRFLᴷⁱᶠ","JRFL"],"range":[30,45]},"legend":null}}},
   {"data":{"values":[{"x":95,"y":102,"t":"1418"}]},"mark":{"type":"text","align":"right","baseline":"middle","fontWeight":"bold","fontSize":10},"encoding":{"text":{"field":"t"}}},
   {"data":{"values":[{"x":95,"y":87,"t":"neg ctrl"}]},"mark":{"type":"text","align":"right","baseline":"middle","fontSize":9.5,"color":"#444"},"encoding":{"text":{"field":"t"}}},
   {"data":{"values":[{"x":95,"y":75,"t":"p = 0.488"}]},"mark":{"type":"text","align":"right","baseline":"middle","fontSize":7,"color":"#666"},"encoding":{"text":{"field":"t"}}}
  ]},
 {"width":25,"height":95,"data":{"values":[{}]},"mark":{"type":"point","opacity":0},"encoding":{}},
 {"width":145,"height":95,"title":{"text":"C","dx":-35,"dy":9},"data":{"name":"C"},
  "resolve":{"scale":{"shape":"independent","fill":"independent","stroke":"independent"}},
  "encoding":{"x":{"field":"x","type":"quantitative","scale":{"type":"log","domain":[0.0001,10],"nice":false},"axis":{"values":[0.0001,0.0002,0.0003,0.0004,0.0005,0.0006,0.0007,0.0008,0.0009,0.001,0.002,0.003,0.004,0.005,0.006,0.007,0.008,0.009,0.01,0.02,0.03,0.04,0.05,0.06,0.07,0.08,0.09,0.1,0.2,0.3,0.4,0.5,0.6,0.7,0.8,0.9,1,2,3,4,5,6,7,8,9,10],"format":"~g","labelExpr":"abs(log(datum.value)/LN10-round(log(datum.value)/LN10))<0.01 ? datum.label : ''","tickSize":{"condition":{"test":"abs(log(datum.value)/LN10-round(log(datum.value)/LN10))<0.01","value":4},"value":2},"title":"mAb (µg/ml)"}},
   "y":{"field":"y","type":"quantitative","scale":{"domain":[0,4],"nice":false},"axis":{"values":[0,1,2,3,4],"title":["Reactivity to gp120JRFL","OD 405"]}}},
  "layer":[
   {"transform":[{"filter":"datum.e>0"}],"mark":{"type":"errorbar","ticks":true,"size":5,"thickness":1,"color":"black"},"encoding":{"yError":{"field":"e"}}},
   {"transform":[{"filter":"datum.s!='1418'"}],"mark":{"type":"line","color":"black","strokeWidth":1},"encoding":{"detail":{"field":"s"}}},
   {"transform":[{"filter":"datum.s=='1418'"}],"mark":{"type":"line","color":"#888","strokeWidth":1},"encoding":{}},
   {"mark":{"type":"point","filled":true,"strokeWidth":1,"opacity":1,"size":22},"encoding":{
     "shape":{"field":"s","type":"nominal","scale":{"domain":["2424","447","2219","2557","3074","3869","1418"],"range":["square","circle","triangle-up","triangle-down","diamond","square","cross"]},"legend":null},
     "fill":{"field":"s","type":"nominal","scale":{"domain":["2424","447","2219","2557","3074","3869","1418"],"range":["white","black","black","black","black","black","#888"]},"legend":null},
     "stroke":{"field":"s","type":"nominal","scale":{"domain":["2424","447","2219","2557","3074","3869","1418"],"range":["black","black","black","black","black","black","#888"]},"legend":null}}},
   {"transform":[{"filter":"false"}],"mark":{"type":"point","filled":true,"strokeWidth":1,"opacity":1,"size":24},"encoding":{
     "shape":{"field":"s","type":"nominal","scale":{"domain":["2424","447","2219","2557","3074","3869","1418"],"range":["M-2,0H-1M1,0H2M-1,-1H1V1H-1Z","M-2,0H-1M1,0H2M1,0A1,1,0,1,1,-1,0A1,1,0,1,1,1,0Z","M-2,0.3H2M0,-1L1.1,0.8H-1.1Z","M-2,-0.3H2M0,1L1.1,-0.8H-1.1Z","M-2,0H2M0,-1L1,0L0,1L-1,0Z","M-2,0H-1M1,0H2M-1,-1H1V1H-1Z","M-2,0H2M-0.3,-1H0.3V-0.3H1V0.3H0.3V1H-0.3V0.3H-1V-0.3H-0.3Z"]},"legend":{"orient":"none","legendX":155,"legendY":6,"title":null,"labelFontSize":7.5,"labelFont":"Liberation Sans","labelColor":"black","labelOffset":6,"symbolSize":24,"symbolStrokeWidth":1,"rowPadding":3}},
     "fill":{"field":"s","type":"nominal","scale":{"domain":["2424","447","2219","2557","3074","3869","1418"],"range":["white","black","black","black","black","black","#888"]},"legend":{"orient":"none","legendX":155,"legendY":6,"title":null,"labelFontSize":7.5,"labelFont":"Liberation Sans","labelColor":"black","labelOffset":6,"symbolSize":24,"symbolStrokeWidth":1,"rowPadding":3}},
     "stroke":{"field":"s","type":"nominal","scale":{"domain":["2424","447","2219","2557","3074","3869","1418"],"range":["black","black","black","black","black","black","#888"]},"legend":{"orient":"none","legendX":155,"legendY":6,"title":null,"labelFontSize":7.5,"labelFont":"Liberation Sans","labelColor":"black","labelOffset":6,"symbolSize":24,"symbolStrokeWidth":1,"rowPadding":3}}}}
  ]}
]
}
